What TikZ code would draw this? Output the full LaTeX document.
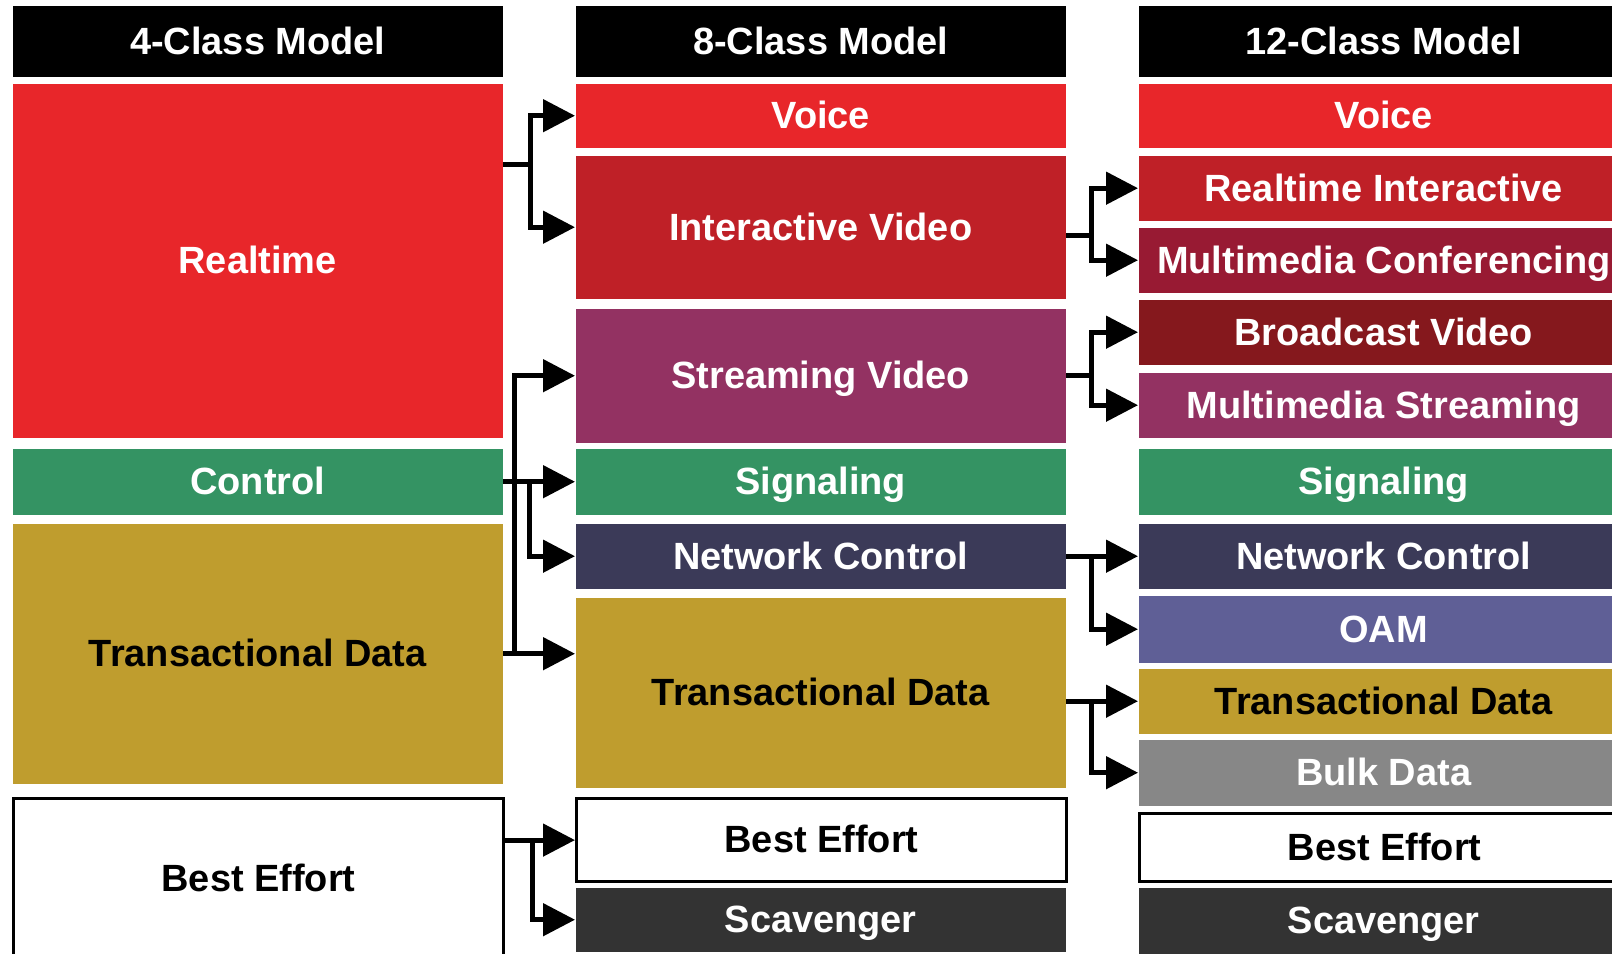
\documentclass[tikz,border=0pt]{standalone}
\usepackage{fontspec}
\setmainfont{Liberation Sans}
\usetikzlibrary{arrows.meta,calc}
\definecolor{rtred}{HTML}{E8262A}
\definecolor{ivred}{HTML}{BF2027}
\definecolor{mcred}{HTML}{981A33}
\definecolor{bvred}{HTML}{85181D}
\definecolor{stream}{HTML}{933262}
\definecolor{sig}{HTML}{349363}
\definecolor{netctl}{HTML}{3B3A58}
\definecolor{oam}{HTML}{5F5F96}
\definecolor{trans}{HTML}{BF9D2E}
\definecolor{bulk}{HTML}{878787}
\definecolor{scav}{HTML}{333333}
\begin{document}
\begin{tikzpicture}[
    cls/.style={anchor=north west, minimum width=4.90cm, inner sep=0pt,
      text height=0.73em, text depth=0pt, text=white,
      font=\fontsize{10.8}{13}\selectfont\bfseries},
    hdr/.style={cls, fill=black, minimum height=0.71cm},
    bebox/.style={cls, fill=white, draw=black, line width=0.9pt, text=black},
    link/.style={line width=1.4pt, -{Triangle[length=0.32cm,width=0.32cm]}}]
  \clip (0,0) rectangle (16.12,-9.53);
  % 4-class model
  \node[hdr] (h4) at (0.12,-0.05) {4-Class Model};
  \node[cls, fill=rtred, minimum height=3.54cm] (rt4) at (0.12,-0.83) {Realtime};
  \node[cls, fill=sig, minimum height=0.66cm] (ctl4) at (0.12,-4.48) {Control};
  \node[cls, fill=trans, text=black, minimum height=2.60cm] (td4) at (0.12,-5.23) {Transactional Data};
  \node[bebox, minimum height=1.60cm] (be4) at (0.12,-7.97) {Best Effort};
  % 8-class model
  \node[hdr] (h8) at (5.75,-0.05) {8-Class Model};
  \node[cls, fill=rtred, minimum height=0.64cm] (v8) at (5.75,-0.83) {Voice};
  \node[cls, fill=ivred, minimum height=1.43cm] (iv8) at (5.75,-1.55) {Interactive Video};
  \node[cls, fill=stream, minimum height=1.34cm] (sv8) at (5.75,-3.08) {Streaming Video};
  \node[cls, fill=sig, minimum height=0.66cm] (sig8) at (5.75,-4.48) {Signaling};
  \node[cls, fill=netctl, minimum height=0.65cm] (nc8) at (5.75,-5.23) {Network Control};
  \node[cls, fill=trans, text=black, minimum height=1.90cm] (td8) at (5.75,-5.97) {Transactional Data};
  \node[bebox, minimum height=0.83cm] (be8) at (5.75,-7.97) {Best Effort};
  \node[cls, fill=scav, minimum height=0.64cm] (sc8) at (5.75,-8.87) {Scavenger};
  % 12-class model
  \node[hdr] (h12) at (11.38,-0.05) {12-Class Model};
  \node[cls, fill=rtred, minimum height=0.64cm] (v12) at (11.38,-0.83) {Voice};
  \node[cls, fill=ivred, minimum height=0.65cm] (ri12) at (11.38,-1.55) {Realtime Interactive};
  \node[cls, fill=mcred, minimum height=0.65cm] (mc12) at (11.38,-2.27) {Multimedia Conferencing};
  \node[cls, fill=bvred, minimum height=0.65cm] (bv12) at (11.38,-2.99) {Broadcast Video};
  \node[cls, fill=stream, minimum height=0.65cm] (ms12) at (11.38,-3.72) {Multimedia Streaming};
  \node[cls, fill=sig, minimum height=0.66cm] (sig12) at (11.38,-4.48) {Signaling};
  \node[cls, fill=netctl, minimum height=0.65cm] (nc12) at (11.38,-5.23) {Network Control};
  \node[cls, fill=oam, minimum height=0.67cm] (oam12) at (11.38,-5.95) {OAM};
  \node[cls, fill=trans, text=black, minimum height=0.65cm] (td12) at (11.38,-6.68) {Transactional Data};
  \node[cls, fill=bulk, minimum height=0.66cm] (bd12) at (11.38,-7.39) {Bulk Data};
  \node[bebox, minimum height=0.68cm] (be12) at (11.38,-8.12) {Best Effort};
  \node[cls, fill=scav, minimum height=0.66cm] (sc12) at (11.38,-8.87) {Scavenger};
  % 4 -> 8
  \coordinate (rt4out) at ($(rt4.north east)!0.23!(rt4.south east)$);
  \draw[link] (rt4out) -- ++(0.27,0) |- (v8.west);
  \draw[link] (rt4out) -- ++(0.27,0) |- (iv8.west);
  \draw[link] (td4.east) -- ++(0.11,0) |- (sv8.west);
  \draw[link] (td4.east) -- (td4.east -| td8.west);
  \draw[link] (ctl4.east) -- (sig8.west);
  \draw[link] (ctl4.east) -- ++(0.26,0) |- (nc8.west);
  \draw[link] (be4.east |- be8.west) -- (be8.west);
  \draw[link] (be4.east |- be8.west) -- ++(0.27,0) |- (sc8.west);
  % 8 -> 12
  \coordinate (iv8out) at ($(iv8.north east)!0.56!(iv8.south east)$);
  \draw[link] (iv8out) -- ++(0.25,0) |- (ri12.west);
  \draw[link] (iv8out) -- ++(0.25,0) |- (mc12.west);
  \draw[link] (sv8.east) -- ++(0.25,0) |- (bv12.west);
  \draw[link] (sv8.east) -- ++(0.25,0) |- (ms12.west);
  \draw[link] (nc8.east) -- (nc12.west);
  \draw[link] (nc8.east) -- ++(0.25,0) |- (oam12.west);
  \draw[link] (td8.east |- td12.west) -- (td12.west);
  \draw[link] (td8.east |- td12.west) -- ++(0.25,0) |- (bd12.west);
\end{tikzpicture}
\end{document}
